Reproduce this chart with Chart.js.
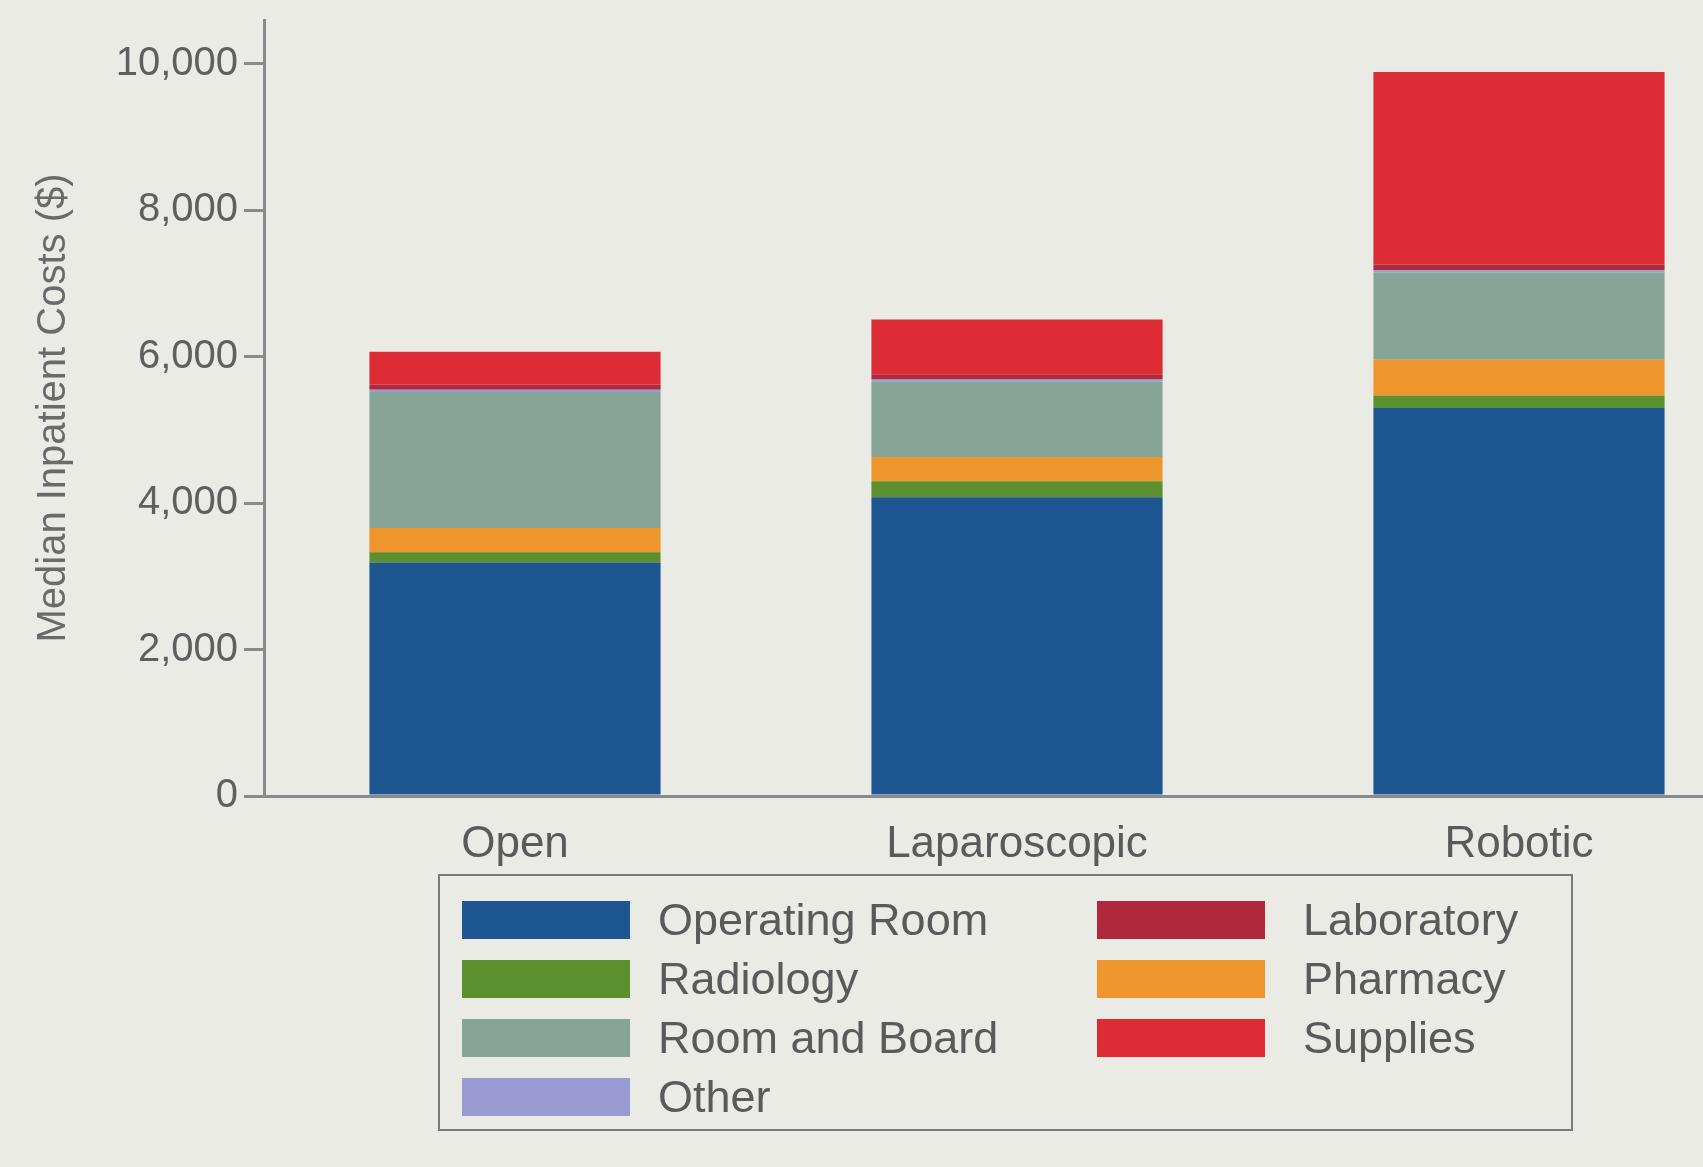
<!DOCTYPE html>
<html>
<head>
<meta charset="utf-8">
<script src="https://cdn.jsdelivr.net/npm/chart.js@4/dist/chart.umd.min.js"></script>
<style>
  html, body { margin: 0; padding: 0; background: #ebebe5; overflow: hidden; }
  #wrap { position: relative; width: 1703px; height: 1167px; overflow: hidden; }
  #c { position: absolute; left: 0; top: 0; }
  #legend {
    position: absolute; left: 438px; top: 874px; width: 1135px; height: 257px;
    border: 2px solid #7a7a7a; box-sizing: border-box;
    display: grid; grid-template-columns: 635px 500px; grid-template-rows: repeat(4, 59px);
    grid-auto-flow: column; padding-top: 14px;
    font-family: "Liberation Sans", Arial, sans-serif; font-size: 45px; color: #5a5a5a;
  }
  .item { display: flex; align-items: center; white-space: nowrap; }
  .sw { width: 168px; height: 38px; margin-left: 22px; margin-right: 28px; flex: none; }
  .item.c2 .sw { margin-right: 38px; }
</style>
</head>
<body>
<div id="wrap">
  <canvas id="c" width="1770" height="1167"></canvas>
  <div id="legend"></div>
</div>
<script>
const categories = ['Open', 'Laparoscopic', 'Robotic'];
const operatingRoom = [3190, 4080, 5300];
const radiology = [140, 220, 170];
const pharmacy = [330, 330, 490];
const roomAndBoard = [1860, 1030, 1190];
const other = [30, 30, 30];
const laboratory = [70, 70, 80];
const supplies = [450, 750, 2630];
const yTicks = [0, 2000, 4000, 6000, 8000, 10000];
const legendOrder = ['Operating Room', 'Radiology', 'Room and Board', 'Other', 'Laboratory', 'Pharmacy', 'Supplies'];

const datasets = [
  { label: 'Operating Room', data: operatingRoom, backgroundColor: '#1e5692' },
  { label: 'Radiology', data: radiology, backgroundColor: '#5c8f2e' },
  { label: 'Pharmacy', data: pharmacy, backgroundColor: '#ee952e' },
  { label: 'Room and Board', data: roomAndBoard, backgroundColor: '#86a596' },
  { label: 'Other', data: other, backgroundColor: '#9b9bd4' },
  { label: 'Laboratory', data: laboratory, backgroundColor: '#b0283c' },
  { label: 'Supplies', data: supplies, backgroundColor: '#dd2c36' }
];

const chart = new Chart(document.getElementById('c'), {
  type: 'bar',
  data: { labels: categories, datasets: datasets },
  options: {
    responsive: false,
    animation: false,
    layout: { padding: { top: 20, right: 0, left: 26, bottom: 0 } },
    datasets: { bar: { categoryPercentage: 1, barPercentage: 0.58, borderWidth: 0 } },
    plugins: { legend: { display: false }, tooltip: { enabled: false } },
    scales: {
      x: {
        stacked: true,
        grid: { display: false, drawTicks: false },
        border: { display: true, color: '#8a8a8a', width: 3 },
        ticks: { color: '#5a5a5a', padding: 22, font: { family: 'Liberation Sans', size: 44 } },
        afterFit: (s) => { s.height = 371; }
      },
      y: {
        stacked: true,
        min: 0,
        max: 10600,
        afterBuildTicks: (s) => { s.ticks = yTicks.map(v => ({ value: v })); },
        grid: { drawOnChartArea: false, drawTicks: true, tickLength: 20, color: '#8a8a8a', lineWidth: 3 },
        border: { display: true, color: '#8a8a8a', width: 3 },
        ticks: {
          color: '#5f5f5f', padding: 6,
          font: { family: 'Liberation Sans', size: 40 },
          callback: (v) => v.toLocaleString('en-US')
        },
        title: {
          display: true, text: 'Median Inpatient Costs ($)', color: '#6a6a6a',
          font: { family: 'Liberation Sans', size: 40 }, padding: { bottom: 8 }
        },
        afterFit: (s) => { s.width = 238; s.paddingTop = 0; }
      }
    }
  }
});

const legendEl = document.getElementById('legend');
legendOrder.forEach((name, i) => {
  const ds = chart.data.datasets.find(d => d.label === name);
  const item = document.createElement('div');
  item.className = 'item' + (i >= 4 ? ' c2' : '');
  const sw = document.createElement('span');
  sw.className = 'sw';
  sw.style.background = ds.backgroundColor;
  const tx = document.createElement('span');
  tx.textContent = ds.label;
  item.appendChild(sw);
  item.appendChild(tx);
  legendEl.appendChild(item);
});
</script>
</body>
</html>
